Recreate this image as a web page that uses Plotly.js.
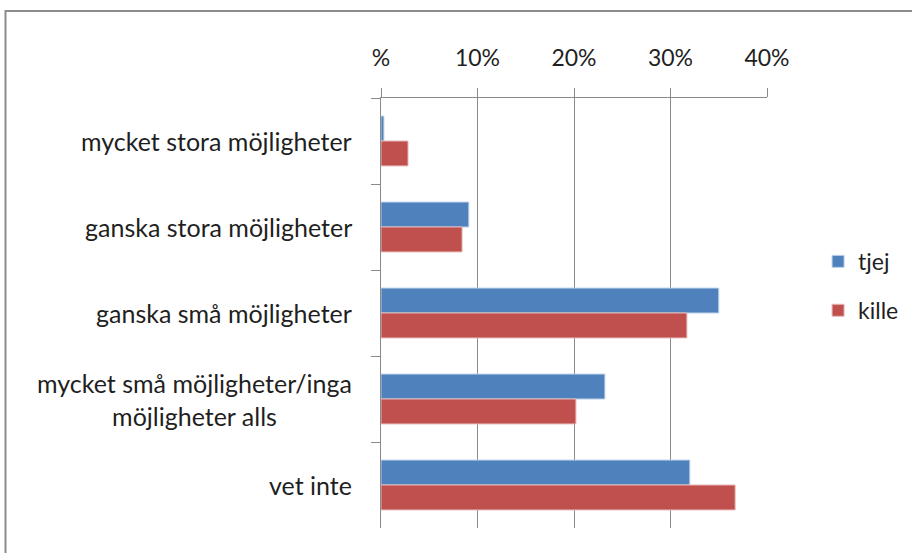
<!DOCTYPE html>
<html>
<head>
<meta charset="utf-8">
<script src="https://cdn.plot.ly/plotly-3.0.1.min.js"></script>
<style>html,body{margin:0;padding:0;background:#fff;}#chart{width:912px;height:553px;}</style>
</head>
<body>
<div id="chart"></div>
<script>
const categories = [
  "mycket stora möjligheter",
  "ganska stora möjligheter",
  "ganska små möjligheter",
  "mycket små möjligheter/inga<br>möjligheter alls",
  "vet inte"
];
const seriesNames = ["tjej", "kille"];
const tjej = [0.3, 9.1, 35.0, 23.2, 32.0];
const kille = [2.8, 8.4, 31.7, 20.2, 36.7];
const tickValues = [0, 10, 20, 30, 40];
const tickLabels = ["%", "10%", "20%", "30%", "40%"];

const FONT = "Lato, 'Open Sans', sans-serif";
const TXT = "#1f1f1f";

const traces = [
  {type: "bar", orientation: "h", name: seriesNames[0], y: categories, x: tjej,
   marker: {color: "#4f81bd", line: {color: "#bcd0ea", width: 1}}, legendgroup: "a"},
  {type: "bar", orientation: "h", name: seriesNames[1], y: categories, x: kille,
   marker: {color: "#c0504d", line: {color: "#e6b8b7", width: 1}}, legendgroup: "b"}
];

const annotations = categories.map(c => ({
  xref: "paper", yref: "y", x: 0, y: c, xshift: -27,
  xanchor: "right", yanchor: "middle", align: "center",
  text: c, showarrow: false,
  font: {family: FONT, size: 25, color: TXT}
}));

const layout = {
  width: 912, height: 553,
  margin: {l: 381, r: 145, t: 98, b: 25, pad: 0},
  paper_bgcolor: "#ffffff", plot_bgcolor: "#ffffff",
  barmode: "group", bargap: 0.42, bargroupgap: 0,
  showlegend: true,
  legend: {xref: "container", yref: "container", x: 0.897, y: 0.483,
           xanchor: "left", yanchor: "middle",
           traceorder: "grouped", tracegroupgap: 16, itemwidth: 30,
           font: {family: FONT, size: 23, color: TXT}, bgcolor: "rgba(0,0,0,0)"},
  xaxis: {side: "top", range: [0, 40], tickvals: tickValues, ticktext: tickLabels,
          showgrid: true, gridcolor: "#8a8a8a", gridwidth: 1,
          showline: true, linecolor: "#8a8a8a", linewidth: 1,
          ticks: "outside", ticklen: 9, tickcolor: "#8a8a8a",
          ticklabelstandoff: 13, zeroline: false,
          tickfont: {family: FONT, size: 23, color: TXT}, fixedrange: true},
  yaxis: {type: "category", autorange: "reversed", showticklabels: false,
          showline: true, linecolor: "#8a8a8a", linewidth: 1,
          ticks: "outside", ticklen: 9, tickcolor: "#8a8a8a", tickson: "boundaries",
          showgrid: false, zeroline: false, fixedrange: true},
  annotations: annotations,
  shapes: [{type: "rect", xref: "paper", yref: "paper",
            x0: (5.5 - 381) / 386, x1: 2, y0: -0.5, y1: 1 + (98 - 11) / 430,
            line: {color: "#8c8c8c", width: 2}, layer: "below"}]
};

Plotly.newPlot("chart", traces, layout, {displayModeBar: false, staticPlot: true});
</script>
</body>
</html>
